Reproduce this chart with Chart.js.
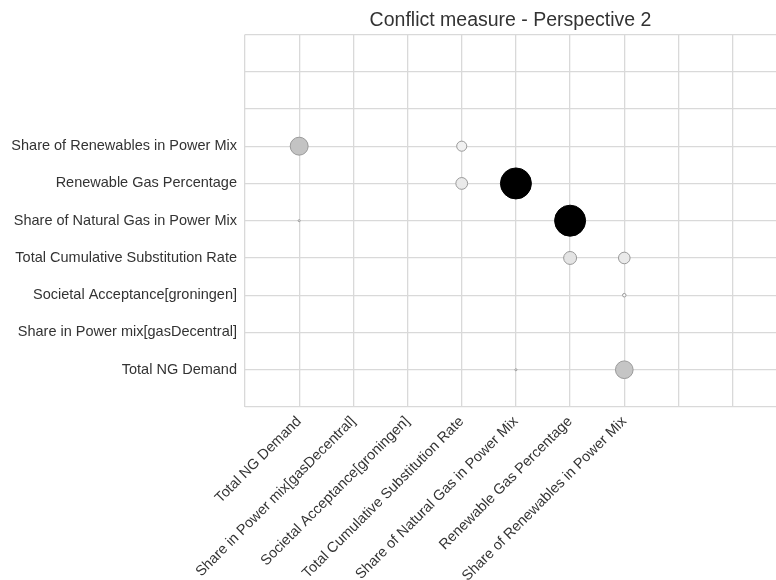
<!DOCTYPE html>
<html>
<head>
<meta charset="utf-8">
<script src="https://cdn.jsdelivr.net/npm/chart.js@4"></script>
<style>
  html, body { margin: 0; padding: 0; background: #fff; overflow: hidden; }
  canvas { display: block; }
</style>
</head>
<body>
<canvas id="conflictChart" width="776" height="580"></canvas>
<script>
// measures on both axes (index 0 at left / bottom)
var measures = [
    'Total NG Demand',
    'Share in Power mix[gasDecentral]',
    'Societal Acceptance[groningen]',
    'Total Cumulative Substitution Rate',
    'Share of Natural Gas in Power Mix',
    'Renewable Gas Percentage',
    'Share of Renewables in Power Mix'
];

// conflict pairs: column measure, row measure, conflict value
var pairX = [0, 3, 3, 4, 0, 5, 5, 6, 6, 4, 6];
var pairY = [6, 6, 5, 5, 4, 4, 3, 3, 2, 0, 0];
var conflict = [0.35, 0.12, 0.16, 1.0, 0.009, 1.0, 0.19, 0.155, 0.02, 0.009, 0.34];

// matplotlib "Greys" colormap stops
var greys = [255, 240, 217, 189, 150, 115, 82, 37, 0];
function greyColor(v) {
    var t = Math.max(0, Math.min(1, v)) * (greys.length - 1);
    var i = Math.floor(t);
    var j = Math.min(i + 1, greys.length - 1);
    var g = Math.round(greys[i] + (greys[j] - greys[i]) * (t - i));
    return 'rgb(' + g + ',' + g + ',' + g + ')';
}

var points = pairX.map(function (x, i) {
    return { x: x, y: pairY[i], r: Math.max(1, 16 * Math.sqrt(conflict[i]) - 0.5) };
});

var fontFamily = '"Liberation Sans", Arial, sans-serif';

new Chart(document.getElementById('conflictChart').getContext('2d'), {
    type: 'bubble',
    data: {
        datasets: [
            {
                label: 'Conflict',
                data: points,
                backgroundColor: conflict.map(greyColor),
                borderColor: conflict.map(function (v) { return v > 0.8 ? '#000' : '#999'; }),
                borderWidth: 1
            }
        ]
    },
    options: {
        responsive: false,
        animation: false,
        layout: { padding: 0, autoPadding: false },
        plugins: {
            legend: { display: false },
            tooltip: { enabled: false },
            title: {
                display: true,
                text: 'Conflict measure - Perspective 2',
                fullSize: false,
                color: '#333',
                font: { family: fontFamily, size: 19.5, weight: 'normal' },
                padding: { top: 9, bottom: 2 }
            }
        },
        scales: {
            x: {
                type: 'linear',
                min: -1,
                max: 8.8,
                afterBuildTicks: function (s) {
                    s.ticks = s.ticks.filter(function (t) { return Number.isInteger(t.value); });
                },
                afterFit: function (s) {
                    s.height = 173;
                    s.paddingRight = 0;
                },
                border: { display: false },
                grid: { color: '#d9d9d9', lineWidth: 1.3, drawTicks: false },
                ticks: {
                    stepSize: 1,
                    autoSkip: false,
                    minRotation: 45,
                    maxRotation: 45,
                    padding: 6,
                    color: '#333',
                    font: { family: fontFamily, size: 14.5 },
                    callback: function (v) { return measures[v] || ''; }
                }
            },
            y: {
                type: 'linear',
                min: -1,
                max: 9,
                afterBuildTicks: function (s) {
                    s.ticks = s.ticks.filter(function (t) { return Number.isInteger(t.value); });
                },
                afterFit: function (s) { s.width = 245; },
                border: { display: false },
                grid: { color: '#d9d9d9', lineWidth: 1.3, drawTicks: false },
                ticks: {
                    stepSize: 1,
                    autoSkip: false,
                    padding: 8,
                    color: '#333',
                    font: { family: fontFamily, size: 14.5 },
                    callback: function (v) { return measures[v] || ''; }
                }
            }
        }
    }
});
</script>
</body>
</html>
